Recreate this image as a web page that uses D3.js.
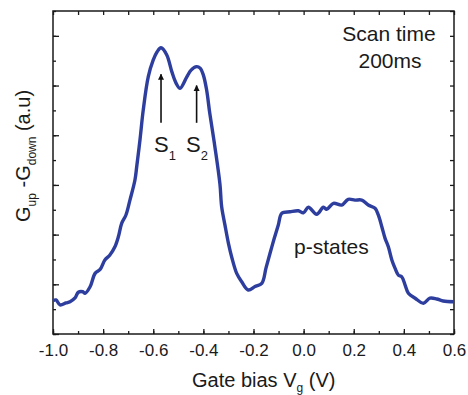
<html>
<head>
    <meta charset="UTF-8" />
    <script src="https://d3js.org/d3.v7.min.js"></script>
    <style>
        body { margin: 0; background: white; }
        text { font-family: "Liberation Sans", Arial, sans-serif; fill: #1a1a1a; }
        .axis .domain { stroke: none; }
        .axis line { stroke: #1a1a1a; stroke-width: 1.3; }
    </style>
</head>
<body>
<svg height="395" width="468" id="svg1"></svg>
<script>

// gate bias (V)
const gateBias = [-1.00, -0.988, -0.972, -0.948, -0.932, -0.912, -0.899, -0.881, -0.872, -0.852,
    -0.832, -0.812, -0.793, -0.773, -0.753, -0.739, -0.726, -0.709, -0.693, -0.673,
    -0.666, -0.653, -0.640, -0.620, -0.600, -0.585, -0.569, -0.546, -0.526, -0.509,
    -0.493, -0.466, -0.449, -0.427, -0.413, -0.400, -0.387, -0.374, -0.354, -0.334,
    -0.327, -0.314, -0.300, -0.286, -0.267, -0.247, -0.221, -0.194, -0.167, -0.150,
    -0.134, -0.118, -0.101, -0.087, -0.054, -0.021, -0.001, 0.019, 0.052, 0.079,
    0.092, 0.119, 0.152, 0.178, 0.205, 0.232, 0.258, 0.285, 0.298, 0.312,
    0.325, 0.338, 0.352, 0.365, 0.378, 0.391, 0.405, 0.418, 0.445, 0.478,
    0.504, 0.531, 0.557, 0.600];
// G_up - G_down (a.u)
const signal = [1.34, 1.37, 1.17, 1.25, 1.30, 1.45, 1.68, 1.70, 1.64, 1.90,
    2.44, 2.60, 2.98, 3.18, 3.51, 3.92, 4.45, 4.79, 5.39, 6.20,
    6.73, 7.81, 9.01, 10.35, 11.03, 11.35, 11.52, 11.23, 10.56, 10.10,
    9.89, 10.35, 10.62, 10.76, 10.70, 10.42, 9.82, 8.85, 7.53, 6.04,
    5.12, 4.39, 3.65, 3.06, 2.44, 2.10, 1.77, 1.91, 2.04, 2.66,
    3.25, 3.82, 4.39, 4.86, 4.92, 4.96, 4.88, 5.10, 4.82, 5.10,
    5.02, 5.26, 5.19, 5.42, 5.39, 5.39, 5.19, 5.06, 4.79, 4.32,
    3.85, 3.51, 2.98, 2.64, 2.37, 2.31, 1.97, 1.64, 1.44, 1.24,
    1.44, 1.41, 1.33, 1.30];

const xTickLabels = [-1.0, -0.8, -0.6, -0.4, -0.2, 0.0, 0.2, 0.4, 0.6];

// arrows: x, y of tail, y of tip
const peakNames = ["1", "2"];
const arrowX = [-0.569, -0.427];
const arrowTail = [8.5, 8.5];
const arrowTip = [10.45, 10.0];

const svg1 = d3.select('svg#svg1');
const margin = {top: 11, left: 53, right: 14, bottom: 61};
const width = 468, height = 395;
const chartWidth = width - margin.left - margin.right;
const chartHeight = height - margin.top - margin.bottom;

const xScale = d3.scaleLinear().domain([-1.0, 0.6]).range([margin.left, margin.left + chartWidth]);
const yScale = d3.scaleLinear().domain([0, 13]).range([margin.top + chartHeight, margin.top]);

const minorX = d3.range(-1.0, 0.61, 0.1).map(d => +d.toFixed(1));
const minorY = d3.range(0, 14, 1);

let labels = svg1.append('g').attr('id', 'labels');

// bottom axis: minor then major with labels
labels.append("g").attr("class", "axis")
    .attr("transform", "translate(0," + yScale(0) + ")")
    .call(d3.axisBottom(xScale).tickValues(minorX).tickSize(-3).tickFormat(""));
labels.append("g").attr("class", "axis xlab")
    .attr("transform", "translate(0," + yScale(0) + ")")
    .call(d3.axisBottom(xScale).tickValues(xTickLabels).tickSize(-5).tickPadding(10)
        .tickFormat(d => d.toFixed(1)));
// top axis
labels.append("g").attr("class", "axis")
    .attr("transform", "translate(0," + yScale(13) + ")")
    .call(d3.axisTop(xScale).tickValues(minorX).tickSize(-4).tickFormat(""));
// left and right
labels.append("g").attr("class", "axis")
    .attr("transform", "translate(" + xScale(-1.0) + ",0)")
    .call(d3.axisLeft(yScale).tickValues(minorY).tickSize(-3).tickFormat(""));
labels.append("g").attr("class", "axis")
    .attr("transform", "translate(" + xScale(-1.0) + ",0)")
    .call(d3.axisLeft(yScale).tickValues(minorY.filter(d => d % 2 == 0)).tickSize(-6).tickFormat(""));
labels.append("g").attr("class", "axis")
    .attr("transform", "translate(" + xScale(0.6) + ",0)")
    .call(d3.axisRight(yScale).tickValues(minorY).tickSize(-4).tickFormat(""));

labels.selectAll(".xlab text").style("font-size", "17px").attr("fill", "#1a1a1a");

// frame
svg1.append("rect")
    .attr("x", xScale(-1.0)).attr("y", yScale(13))
    .attr("width", xScale(0.6) - xScale(-1.0)).attr("height", yScale(0) - yScale(13))
    .attr("fill", "none").attr("stroke", "#1a1a1a").attr("stroke-width", 1.5);

// curve
const pts = gateBias.map((g, i) => [g, signal[i]]);
const lineGen = d3.line()
    .x(d => xScale(d[0]))
    .y(d => yScale(d[1]))
    .curve(d3.curveCatmullRom.alpha(0.5));

svg1.append("path")
    .attr("d", lineGen(pts))
    .style("fill", "none")
    .style("stroke", "#2d3e9e")
    .style("stroke-width", 3.4)
    .style("stroke-linejoin", "round");

// arrows
svg1.append("defs").append("marker")
    .attr("id", "head").attr("viewBox", "0 0 10 10")
    .attr("refX", 9).attr("refY", 5)
    .attr("markerWidth", 6).attr("markerHeight", 8)
    .attr("markerUnits", "userSpaceOnUse")
    .attr("orient", "auto")
    .append("path").attr("d", "M0,0 L10,5 L0,10 z").attr("fill", "#111");

arrowX.forEach((ax, i) => {
    svg1.append("line")
        .attr("x1", xScale(ax)).attr("x2", xScale(ax))
        .attr("y1", yScale(arrowTail[i])).attr("y2", yScale(arrowTip[i]))
        .attr("stroke", "#111").attr("stroke-width", 1.6)
        .attr("marker-end", "url(#head)");
});

// S labels
const sPos = [[154, 152], [186, 152]];
peakNames.forEach((n, i) => {
    let t = svg1.append("text").attr("x", sPos[i][0]).attr("y", sPos[i][1])
        .style("font-size", "22px");
    t.append("tspan").text("S");
    t.append("tspan").attr("dy", 8).style("font-size", "13px").text(n);
});

// annotations
svg1.append("text").attr("x", 389).attr("y", 41).attr("text-anchor", "middle")
    .style("font-size", "21px").text("Scan time");
svg1.append("text").attr("x", 390).attr("y", 68).attr("text-anchor", "middle")
    .style("font-size", "21px").text("200ms");
svg1.append("text").attr("x", 294).attr("y", 254)
    .style("font-size", "21px").text("p-states");

// x label
let xl = svg1.append("text").attr("x", 192).attr("y", 387).style("font-size", "20px");
xl.append("tspan").text("Gate bias V");
xl.append("tspan").attr("dy", 5).style("font-size", "12px").text("g");
xl.append("tspan").attr("dy", -5).text(" (V)");

// y label
let yl = svg1.append("text")
    .attr("transform", "translate(30,222) rotate(-90)")
    .style("font-size", "20px");
yl.append("tspan").text("G");
yl.append("tspan").attr("dy", 6).style("font-size", "12px").text("up");
yl.append("tspan").attr("dy", -6).text(" -G");
yl.append("tspan").attr("dy", 6).style("font-size", "12px").text("down");
yl.append("tspan").attr("dy", -6).text(" (a.u)");

</script>
</body>
</html>
